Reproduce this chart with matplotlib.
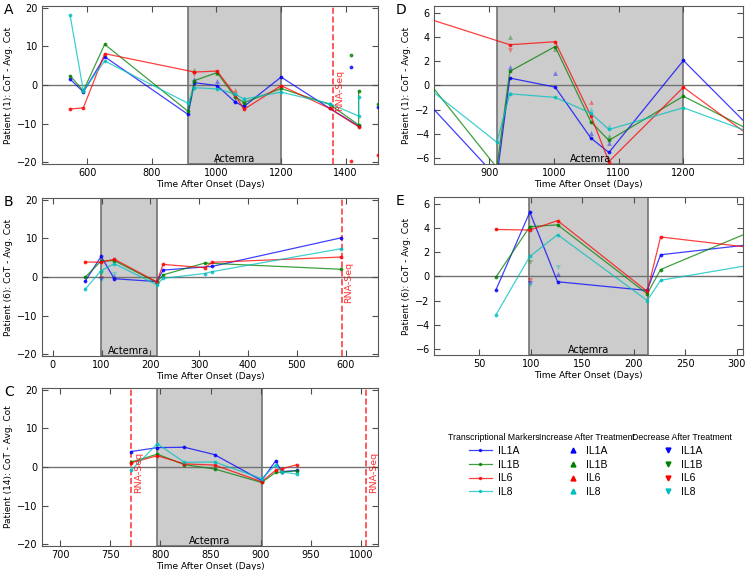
import numpy as np
import matplotlib
matplotlib.use("Agg")
import matplotlib.pyplot as plt
from matplotlib.lines import Line2D

markers_names = ["IL1A", "IL1B", "IL6", "IL8"]
colors = ["b", "g", "r", "c"]

# Patient 1
p1_il1a_days = [547, 588, 654, 912, 932, 1002, 1057, 1085, 1200, 1350, 1440]
p1_il1a = [1.5, -1.8, 7.3, -7.6, 0.6, -0.15, -4.35, -5.55, 2.05, -6.0, -10.6]
p1_il1b_days = [547, 588, 654, 912, 932, 1002, 1057, 1085, 1200, 1350, 1440, 1440]
p1_il1b = [2.4, -1.5, 10.5, -6.8, 1.15, 3.2, -3.0, -4.55, -0.9, -5.0, -10.3, -1.5]
p1_il6_days = [547, 588, 654, 932, 1002, 1057, 1085, 1200, 1350, 1440]
p1_il6 = [-6.2, -5.9, 8.1, 3.35, 3.6, -2.5, -6.3, -0.16, -6.05, -10.8]
p1_il8_days = [547, 588, 654, 912, 932, 1002, 1057, 1085, 1200, 1350, 1440, 1440]
p1_il8 = [18.0, -1.5, 6.2, -4.7, -0.7, -1.0, -2.3, -3.65, -1.85, -4.8, -8.0, -3.0]
p1_extra_days = [1417, 1500]
p1_extra_il1a = [4.6, -5.8]
p1_extra_il1b = [7.7, -4.95]
p1_extra_il6 = [-19.5, -18.0]
p1_up_days = [932, 932, 932, 1002, 1002, 1057, 1057, 1057, 1085, 1085, 1085]
p1_up_vals = [1.5, 4.0, -0.6, 1.0, 3.0, -1.35, -1.95, -3.95, -3.4, -4.15, -4.8]
p1_up_cols = ["b", "g", "c", "b", "g", "r", "c", "b", "c", "g", "b"]
p1_down_days = [932]
p1_down_vals = [2.95]
p1_down_cols = ["r"]
p1_shade = (912, 1200)
p1_rnaseq = [1360]

# Patient 6
p6_days = [66, 99, 126, 213, 226, 311, 327, 590]
p6_il1a = [-1.15, 5.3, -0.45, -1.17, 1.78, np.nan, 2.75, 10.1]
p6_il1b = [-0.08, 4.1, 4.25, -1.44, 0.56, 3.6, np.nan, 2.0]
p6_il6 = [3.87, 3.82, 4.6, -1.25, 3.25, 2.4, 3.8, 5.15]
p6_il8 = [-3.2, 1.64, 3.44, -2.0, -0.33, 0.9, 1.4, 7.3]
p6_up_days = [126]
p6_up_vals = [0.15]
p6_up_cols = ["b"]
p6_down_days = [99, 99, 99, 99, 126]
p6_down_vals = [1.15, -0.3, -0.58, -0.72, 0.8]
p6_down_cols = ["g", "r", "b", "c", "c"]
p6_shade = (98, 214)
p6_rnaseq = [592]

# Patient 14
p14_days = [771, 797, 824, 854, 901, 915, 921, 936]
p14_il1a = [4.0, 5.0, 5.1, 3.2, -3.5, 1.6, -1.2, -0.9]
p14_il1b = [1.3, 3.3, 0.6, -0.5, -4.0, -1.4, -1.3, -1.0]
p14_il6 = [1.1, 2.9, 0.8, 0.5, -3.8, -0.8, -0.5, 0.6]
p14_il8 = [-0.8, 6.0, 1.2, 1.3, -3.0, 0.5, -1.3, -1.8]
p14_shade = (797, 901)
p14_rnaseq = [771, 1005]

plt.rcParams["font.family"] = "DejaVu Sans"
fig = plt.figure(figsize=(7.5, 5.7), dpi=100)
W, H = 750.0, 570.0


def panel(box, letter, ylabel, series, shade, rnaseq, xlim, ylim, yticks,
          up=None, down=None, extra=None):
    l, r, t, b = box
    ax = fig.add_axes([l / W, 1 - b / H, (r - l) / W, (b - t) / H])
    ax.axvspan(shade[0], shade[1], facecolor="0.8", edgecolor="0.45", lw=1.2, zorder=0)
    ax.axhline(0, color="0.45", lw=1, zorder=1)
    for (d, v), c in zip(series, colors):
        d = np.asarray(d, float)
        v = np.asarray(v, float)
        m = ~np.isnan(v)
        ax.plot(d[m], v[m], color=c, marker=".", ms=3.5, lw=0.9, alpha=0.75, zorder=3)
    if extra is not None:
        ed, evals = extra
        for v, c in zip(evals, colors):
            ax.plot(ed, v, ls="none", color=c, marker=".", ms=3.5, alpha=0.75, zorder=3)
    if up is not None:
        for d, v, c in zip(*up):
            ax.plot(d, v, ls="none", marker="^", ms=3.5, color=c, alpha=0.4, mec="none", zorder=2)
    if down is not None:
        for d, v, c in zip(*down):
            ax.plot(d, v, ls="none", marker="v", ms=3.5, color=c, alpha=0.4, mec="none", zorder=2)
    for x in rnaseq:
        ax.axvline(x, color="r", ls="--", lw=1.2, alpha=0.75, zorder=2)
        if xlim[0] < x < xlim[1] - 5:
            ax.text(x + (xlim[1] - xlim[0]) * 0.008, ylim[0] * 0.07, "RNA-Seq", color="r",
                    alpha=0.8, rotation=90, ha="left", va="center", fontsize=6.8)
    ax.text((shade[0] + shade[1]) / 2, ylim[0], "Actemra", ha="center", va="bottom",
            fontsize=7)
    ax.set_xlim(xlim)
    ax.set_ylim(ylim)
    ax.set_yticks(yticks)
    ax.tick_params(direction="in", top=True, right=True, labelsize=7, length=4,
                   color="0.3", pad=3)
    for s in ax.spines.values():
        s.set_color("0.35")
    ax.set_xlabel("Time After Onset (Days)", fontsize=6.5, labelpad=1)
    ax.set_ylabel(ylabel, fontsize=6.5, labelpad=3)
    fig.text((l - 38) / W, 1 - (t - 3) / H, letter, fontsize=10, ha="left", va="top")
    return ax


big = [-20, -10, 0, 10, 20]
small = [-6, -4, -2, 0, 2, 4, 6]

p1_series = [(p1_il1a_days, p1_il1a), (p1_il1b_days, p1_il1b),
             (p1_il6_days, p1_il6), (p1_il8_days, p1_il8)]
p1_extra = (p1_extra_days, [p1_extra_il1a, p1_extra_il1b, p1_extra_il6])
p1_up = (p1_up_days, p1_up_vals, p1_up_cols)
p1_down = (p1_down_days, p1_down_vals, p1_down_cols)
p6_series = [(p6_days, p6_il1a), (p6_days, p6_il1b), (p6_days, p6_il6), (p6_days, p6_il8)]
p6_up = (p6_up_days, p6_up_vals, p6_up_cols)
p6_down = (p6_down_days, p6_down_vals, p6_down_cols)
p14_series = [(p14_days, p14_il1a), (p14_days, p14_il1b), (p14_days, p14_il6), (p14_days, p14_il8)]

panel((42, 378, 6, 164), "A", "Patient (1): CoT - Avg. Cot", p1_series, p1_shade,
      p1_rnaseq, (460, 1500), (-20.4, 20.4), big, p1_up, p1_down, p1_extra)
panel((434, 743, 6, 164), "D", "Patient (1): CoT - Avg. Cot", p1_series, p1_shade,
      p1_rnaseq, (815, 1292), (-6.5, 6.55), small, p1_up, p1_down, p1_extra)
panel((42, 378, 198, 356), "B", "Patient (6): CoT - Avg. Cot", p6_series, p6_shade,
      p6_rnaseq, (-22, 666), (-20.4, 20.4), big, p6_up, p6_down)
panel((434, 743, 197, 355), "E", "Patient (6): CoT - Avg. Cot", p6_series, p6_shade,
      p6_rnaseq, (6, 306), (-6.5, 6.55), small, p6_up, p6_down)
panel((42, 378, 388, 546), "C", "Patient (14): CoT - Avg. Cot", p14_series, p14_shade,
      p14_rnaseq, (682, 1017), (-20.4, 20.4), big)

# legends
line_handles = [Line2D([], [], color=c, marker=".", ms=3, lw=0.9, alpha=0.75) for c in colors]
up_handles = [Line2D([], [], color=c, marker="^", ms=3.5, ls="none") for c in colors]
down_handles = [Line2D([], [], color=c, marker="v", ms=3.5, ls="none") for c in colors]
for handles, title, xc, hl in [(line_handles, "Transcriptional Markers", 494, 2.2),
                               (up_handles, "Increase After Treatment", 587, 1.2),
                               (down_handles, "Decrease After Treatment", 682, 1.2)]:
    fig.legend(handles, markers_names, title=title, loc="upper center",
               bbox_to_anchor=(xc / W, 1 - 427 / H), frameon=False,
               prop={"family": "Liberation Sans", "size": 7.5},
               title_fontproperties={"family": "Liberation Sans", "size": 6.3},
               handlelength=hl, labelspacing=0.35, borderpad=0.1,
               handletextpad=0.6)

fig.savefig("out.png", dpi=100)
